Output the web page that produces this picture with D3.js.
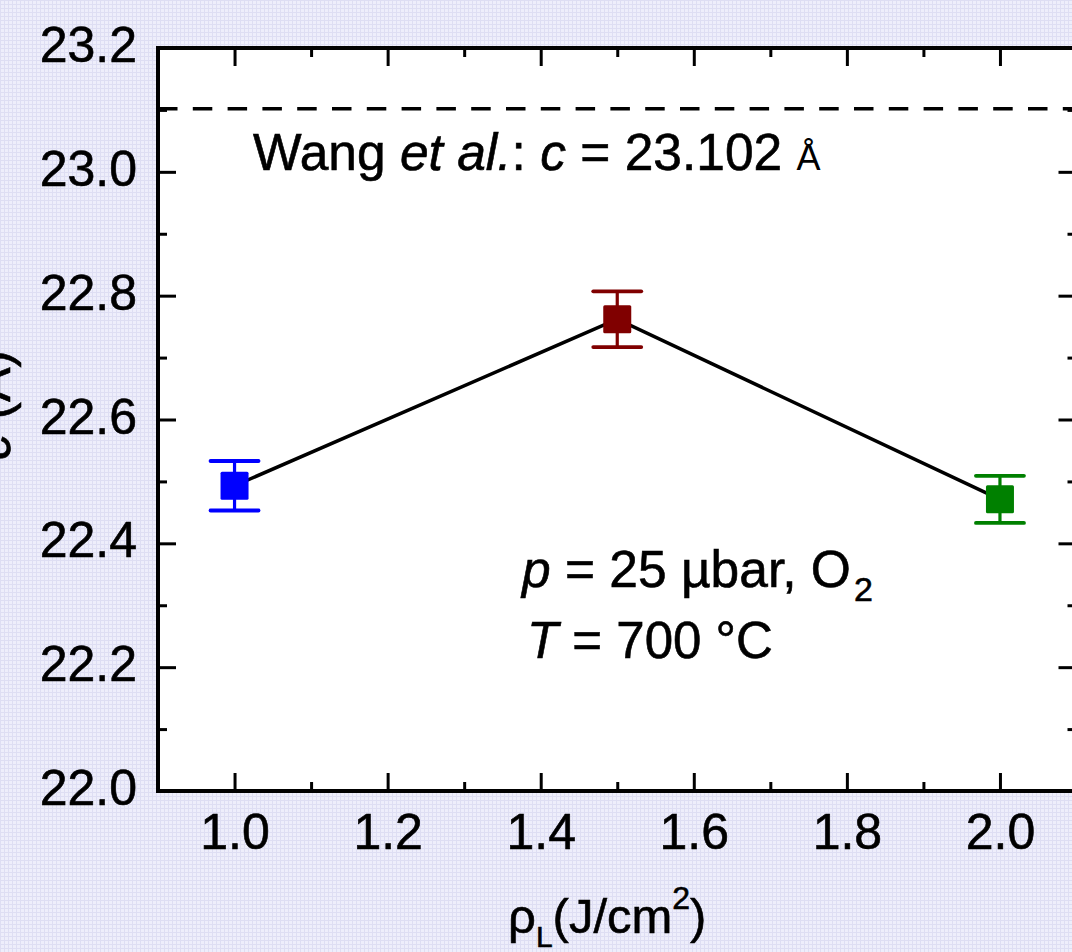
<!DOCTYPE html>
<html>
<head>
<meta charset="utf-8">
<script src="https://cdn.jsdelivr.net/npm/d3@7/dist/d3.min.js"></script>
<style>
  html, body { margin: 0; padding: 0; background: #ececfa; }
  svg { display: block; }
  text { font-family: "Liberation Sans", Arial, Helvetica, sans-serif; fill: #000; stroke: #000; stroke-width: 0.6px; }
</style>
</head>
<body>
<svg id="chart" width="1072" height="952"></svg>
<script>
// Laser fluence (J/cm²) and measured c-axis lattice parameter (Å)
const fluence = [1.0, 1.5, 2.0];
const latticeC = [22.493, 22.762, 22.471];
const latticeErr = [0.040, 0.045, 0.038];
const pointColors = ["#0000ff", "#800000", "#008000"];

// Literature reference value
const referenceC = 23.102;

// Axis ticks
const xMajorTicks = [1.0, 1.2, 1.4, 1.6, 1.8, 2.0];
const xMinorTicks = [1.1, 1.3, 1.5, 1.7, 1.9];
const yMajorTicks = [22.0, 22.2, 22.4, 22.6, 22.8, 23.0, 23.2];
const yMinorTicks = [22.1, 22.3, 22.5, 22.7, 22.9, 23.1];
const xDomain = [0.9, 2.1];
const yDomain = [22.0, 23.2];

(function draw() {
  const svg = d3.select("#chart");
  const W = 1072, H = 952;
  const pLeft = 158, pTop = 48, pRight = 1076.5, pBottom = 791;

  // Lavender grid texture behind the frame
  const defs = svg.append("defs");
  const pat = defs.append("pattern")
    .attr("id", "bgGrid").attr("width", 4).attr("height", 4)
    .attr("patternUnits", "userSpaceOnUse");
  pat.append("rect").attr("width", 4).attr("height", 4).attr("fill", "#eeeefb");
  pat.append("rect").attr("x", 0).attr("y", 0).attr("width", 4).attr("height", 1).attr("fill", "#dedef3");
  pat.append("rect").attr("x", 0).attr("y", 0).attr("width", 1).attr("height", 4).attr("fill", "#dedef3");
  svg.append("rect").attr("width", W).attr("height", H).attr("fill", "url(#bgGrid)");

  const x = d3.scaleLinear().domain(xDomain).range([pLeft, pRight]);
  const y = d3.scaleLinear().domain(yDomain).range([pBottom, pTop]);

  // Plot area
  svg.append("rect")
    .attr("x", pLeft).attr("y", pTop)
    .attr("width", pRight - pLeft).attr("height", pBottom - pTop)
    .attr("fill", "#fff");

  const majorLen = 18, minorLen = 9;

  function styleAxis(g, fontSize) {
    g.select(".domain").remove();
    g.selectAll(".tick line").attr("stroke", "#000").attr("stroke-width", 3);
    g.selectAll(".tick text").style("font-size", fontSize + "px");
  }

  // Bottom axis (labelled) with inward ticks
  svg.append("g").attr("transform", `translate(0,${pBottom})`)
    .call(d3.axisBottom(x).tickValues(xMajorTicks).tickFormat(d3.format(".1f"))
      .tickSizeInner(-majorLen).tickSizeOuter(0).tickPadding(22))
    .call(g => styleAxis(g, 50));
  svg.append("g").attr("transform", `translate(0,${pBottom})`)
    .call(d3.axisBottom(x).tickValues(xMinorTicks).tickFormat("")
      .tickSizeInner(-minorLen).tickSizeOuter(0))
    .call(g => styleAxis(g, 10));

  // Top axis, ticks only
  svg.append("g").attr("transform", `translate(0,${pTop})`)
    .call(d3.axisTop(x).tickValues(xMajorTicks).tickFormat("")
      .tickSizeInner(-majorLen).tickSizeOuter(0))
    .call(g => styleAxis(g, 10));
  svg.append("g").attr("transform", `translate(0,${pTop})`)
    .call(d3.axisTop(x).tickValues(xMinorTicks).tickFormat("")
      .tickSizeInner(-minorLen).tickSizeOuter(0))
    .call(g => styleAxis(g, 10));

  // Left axis (labelled)
  svg.append("g").attr("transform", `translate(${pLeft},0)`)
    .call(d3.axisLeft(y).tickValues(yMajorTicks).tickFormat(d3.format(".1f"))
      .tickSizeInner(-majorLen).tickSizeOuter(0).tickPadding(21))
    .call(g => styleAxis(g, 50))
    .call(g => g.selectAll(".tick text").attr("dy", "0.27em"));
  svg.append("g").attr("transform", `translate(${pLeft},0)`)
    .call(d3.axisLeft(y).tickValues(yMinorTicks).tickFormat("")
      .tickSizeInner(-minorLen).tickSizeOuter(0))
    .call(g => styleAxis(g, 10));

  // Right axis, ticks only
  svg.append("g").attr("transform", `translate(${pRight},0)`)
    .call(d3.axisRight(y).tickValues(yMajorTicks).tickFormat("")
      .tickSizeInner(-majorLen).tickSizeOuter(0))
    .call(g => styleAxis(g, 10));
  svg.append("g").attr("transform", `translate(${pRight},0)`)
    .call(d3.axisRight(y).tickValues(yMinorTicks).tickFormat("")
      .tickSizeInner(-minorLen).tickSizeOuter(0))
    .call(g => styleAxis(g, 10));

  // Dashed reference line
  svg.append("line")
    .attr("x1", pLeft).attr("x2", pRight)
    .attr("y1", y(referenceC)).attr("y2", y(referenceC))
    .attr("stroke", "#000").attr("stroke-width", 3.5)
    .attr("stroke-dasharray", "19.5,15.3");

  // Frame
  svg.append("rect")
    .attr("x", pLeft).attr("y", pTop)
    .attr("width", pRight - pLeft).attr("height", pBottom - pTop)
    .attr("fill", "none").attr("stroke", "#000").attr("stroke-width", 4);

  // Connecting line
  const pts = fluence.map((f, i) => ({ f, c: latticeC[i], e: latticeErr[i], col: pointColors[i] }));
  svg.append("path")
    .datum(pts)
    .attr("d", d3.line().x(d => x(d.f)).y(d => y(d.c)))
    .attr("fill", "none").attr("stroke", "#000").attr("stroke-width", 3.5);

  // Error bars and square markers
  const capHalf = 24, sq = 28;
  const pg = svg.append("g").selectAll("g").data(pts).join("g");
  pg.append("line")
    .attr("x1", d => x(d.f)).attr("x2", d => x(d.f))
    .attr("y1", d => y(d.c - d.e)).attr("y2", d => y(d.c + d.e))
    .attr("stroke", d => d.col).attr("stroke-width", 3.2);
  pg.append("line")
    .attr("x1", d => x(d.f) - capHalf).attr("x2", d => x(d.f) + capHalf)
    .attr("y1", d => y(d.c + d.e)).attr("y2", d => y(d.c + d.e))
    .attr("stroke", d => d.col).attr("stroke-width", 3.8).attr("stroke-linecap", "round");
  pg.append("line")
    .attr("x1", d => x(d.f) - capHalf).attr("x2", d => x(d.f) + capHalf)
    .attr("y1", d => y(d.c - d.e)).attr("y2", d => y(d.c - d.e))
    .attr("stroke", d => d.col).attr("stroke-width", 3.8).attr("stroke-linecap", "round");
  pg.append("rect")
    .attr("x", d => x(d.f) - sq / 2).attr("y", d => y(d.c) - sq / 2)
    .attr("width", sq).attr("height", sq).attr("rx", 1.5)
    .attr("fill", d => d.col);

  // Reference annotation
  const ref = svg.append("text").attr("x", 253).attr("y", 170).style("font-size", "51.5px");
  ref.append("tspan").text("Wang ");
  ref.append("tspan").style("font-style", "italic").text("et al.");
  ref.append("tspan").text(": ");
  ref.append("tspan").style("font-style", "italic").text("c");
  ref.append("tspan").text(" = " + referenceC.toFixed(3) + " ");
  ref.append("tspan").style("font-size", "36px").style("stroke-width", "0px").text("Å");

  // Growth conditions
  const cond1 = svg.append("text").attr("x", 522).attr("y", 587).style("font-size", "51.5px");
  cond1.append("tspan").style("font-style", "italic").text("p");
  cond1.append("tspan").text(" = 25 µbar, O");
  cond1.append("tspan").attr("dx", 3).attr("dy", 14).style("font-size", "34px").text("2");

  const cond2 = svg.append("text").attr("x", 527).attr("y", 658).style("font-size", "51px");
  cond2.append("tspan").style("font-style", "italic").text("T");
  cond2.append("tspan").text(" = 700 °C");

  // X-axis title
  const xt = svg.append("text").attr("x", 508).attr("y", 933).style("font-size", "49px");
  xt.append("tspan").text("ρ");
  xt.append("tspan").attr("dy", 14).style("font-size", "30px").text("L");
  xt.append("tspan").attr("dy", -14).text("(J/cm");
  xt.append("tspan").attr("dy", -24).style("font-size", "32px").text("2");
  xt.append("tspan").attr("dy", 24).text(")");

  // Y-axis title (partly outside the canvas)
  const yt = svg.append("text")
    .attr("transform", "translate(10,405) rotate(-90)")
    .attr("text-anchor", "middle").style("font-size", "52px");
  yt.append("tspan").style("font-style", "italic").text("c");
  yt.append("tspan").text(" (Å)");
})();
</script>
</body>
</html>
